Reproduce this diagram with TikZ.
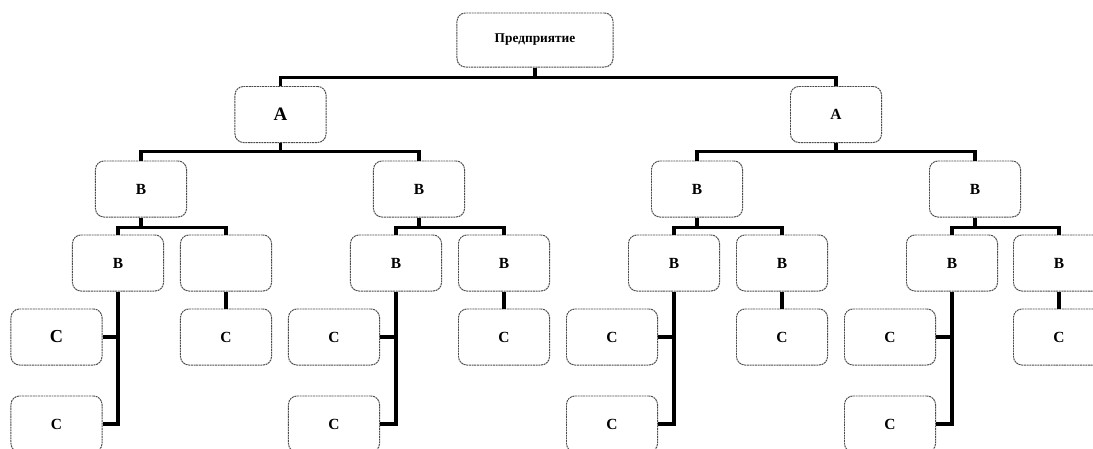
\documentclass[tikz,border=0pt]{standalone}
\usepackage{fontspec}
\setmainfont{Liberation Serif}
\usetikzlibrary{calc}

\tikzset{
  unit/.style={draw=black!70, line width=0.7pt, dash pattern=on 1.4pt off 0.5pt,
    rounded corners=6pt, minimum width=2.275cm, minimum height=1.4cm, inner sep=0pt,
    font=\bfseries\fontsize{11}{12}\selectfont},
  topunit/.style={unit, minimum width=3.9cm, minimum height=1.35cm,
    font=\bfseries\fontsize{9.5}{11}\selectfont},
  link/.style={line width=2.2pt}
}

\begin{document}
\begin{tikzpicture}[x=0.025cm, y=-0.025cm]
    \useasboundingbox (0,0) rectangle (1093,448);
    \clip (0,0) rectangle (1093,448);
    % top level
    \node[topunit] (ent) at (535,40) {Предприятие};
    \node[unit, font=\bfseries\fontsize{13.5}{14}\selectfont] (a1) at (280.5,114.5) {A};
    \node[unit] (a2) at (836,114.5) {A};
    % second level
    \node[unit] (b1) at (141,189) {B};
    \node[unit] (b2) at (419,189) {B};
    \node[unit] (b3) at (697,189) {B};
    \node[unit] (b4) at (975,189) {B};
    % third level
    \node[unit] (b11) at (118,263) {B};
    \node[unit] (b12) at (226,263) {};
    \node[unit] (b21) at (396,263) {B};
    \node[unit] (b22) at (504,263) {B};
    \node[unit] (b31) at (674,263) {B};
    \node[unit] (b32) at (782,263) {B};
    \node[unit] (b41) at (952,263) {B};
    \node[unit] (b42) at (1059,263) {B};
    % fourth level
    \node[unit, font=\bfseries\fontsize{13}{14}\selectfont] (c11) at (56.5,337) {C};
    \node[unit] (c11x) at (56.5,424) {C};
    \node[unit] (c12) at (226,337) {C};
    \node[unit] (c21) at (334,337) {C};
    \node[unit] (c21x) at (334,424) {C};
    \node[unit] (c22) at (504,337) {C};
    \node[unit] (c31) at (612,337) {C};
    \node[unit] (c31x) at (612,424) {C};
    \node[unit] (c32) at (782,337) {C};
    \node[unit] (c41) at (890,337) {C};
    \node[unit] (c41x) at (890,424) {C};
    \node[unit] (c42) at (1059,337) {C};
    % connectors
    \draw[link] (ent.south) -- ++(0,10) -| (a1.north);
    \draw[link] (ent.south) -- ++(0,10) -| (a2.north);
    \foreach \p/\q in {a1/b1, a1/b2, a2/b3, a2/b4}
      \draw[link] (\p.south) -- ++(0,8.5) -| (\q.north);
    \foreach \p/\q in {b1/b11, b1/b12, b2/b21, b2/b22, b3/b31, b3/b32, b4/b41, b4/b42}
      \draw[link] (\p.south) -- ++(0,10) -| (\q.north);
    \foreach \i in {1,2,3,4} {
      \draw[link] (b\i1.south) |- (c\i1.east);
      \draw[link] (b\i1.south) |- (c\i1x.east);
      \draw[link] (b\i2.south) -- (c\i2.north);
    }
\end{tikzpicture}
\end{document}
